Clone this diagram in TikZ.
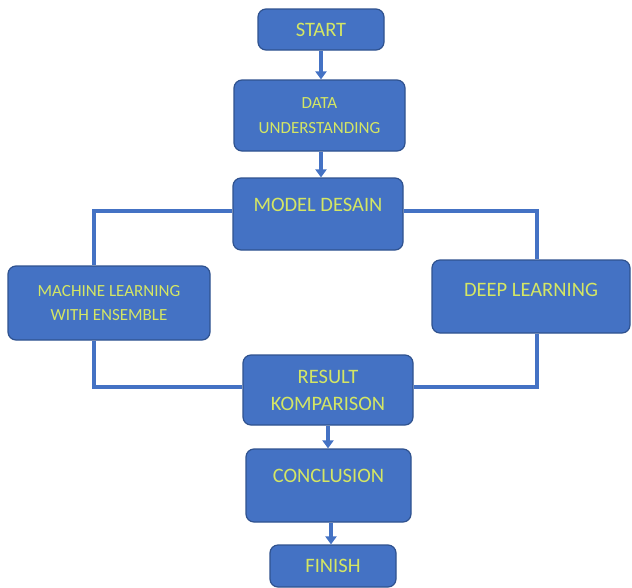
\documentclass[tikz,border=0pt]{standalone}
\usepackage{fontspec}
\setmainfont{Carlito}
\usetikzlibrary{arrows.meta,calc}
\definecolor{boxblue}{RGB}{68,114,196}
\definecolor{boxedge}{RGB}{47,82,143}
\definecolor{txtgreen}{RGB}{212,230,100}
\tikzset{
  flowbox/.style={draw=boxedge,line width=1.2pt,fill=boxblue,rounded corners=8pt,
    text=txtgreen,align=center,inner sep=0pt,font=\fontsize{20.5}{27}\selectfont},
  smalltext/.style={font=\fontsize{17}{24.5}\selectfont},
  link/.style={draw=boxblue,line width=3.5pt},
  flowarrow/.style={draw=boxblue,line width=3.5pt,-{Triangle[width=11pt,length=8pt]}}
}
\begin{document}
\begin{tikzpicture}[x=1pt,y=1pt]
\useasboundingbox (0,0) rectangle (632,-587);
\node[flowbox,minimum width=126pt,minimum height=41pt] (start) at (321,-29.5) {START};
\node[flowbox,smalltext,minimum width=171pt,minimum height=71pt] (data) at (319.5,-115.5) {DATA\\UNDERSTANDING};
\node[flowbox,minimum width=170pt,minimum height=72pt,text depth=19pt] (model) at (318,-214) {MODEL DESAIN};
\node[flowbox,smalltext,minimum width=202pt,minimum height=74pt] (ml) at (109,-303) {MACHINE LEARNING\\WITH ENSEMBLE};
\node[flowbox,minimum width=198pt,minimum height=73pt,text depth=14pt] (dl) at (531,-296.5) {DEEP LEARNING};
\node[flowbox,minimum width=170pt,minimum height=70pt] (result) at (328,-390) {RESULT\\KOMPARISON};
\node[flowbox,minimum width=165pt,minimum height=73pt,text depth=20pt] (concl) at (328.5,-485.5) {CONCLUSION};
\node[flowbox,minimum width=126pt,minimum height=42pt] (finish) at (333,-566) {FINISH};
\draw[flowarrow] (start.south) -- (start.south |- data.north);
\draw[flowarrow] ([xshift=1.5pt]data.south) -- ([xshift=1.5pt]data.south |- model.north);
\draw[flowarrow] (result.south) -- (result.south |- concl.north);
\draw[flowarrow] ([xshift=2.5pt]concl.south) -- ([xshift=2.5pt]concl.south |- finish.north);
\draw[link] ([yshift=3pt]model.west) -| ([xshift=-15pt]ml.north);
\draw[link] ([yshift=3pt]model.east) -| ([xshift=6pt]dl.north);
\draw[link] ([xshift=-15pt]ml.south) |- ([yshift=3pt]result.west);
\draw[link] ([xshift=6pt]dl.south) |- ([yshift=3pt]result.east);
\end{tikzpicture}
\end{document}
